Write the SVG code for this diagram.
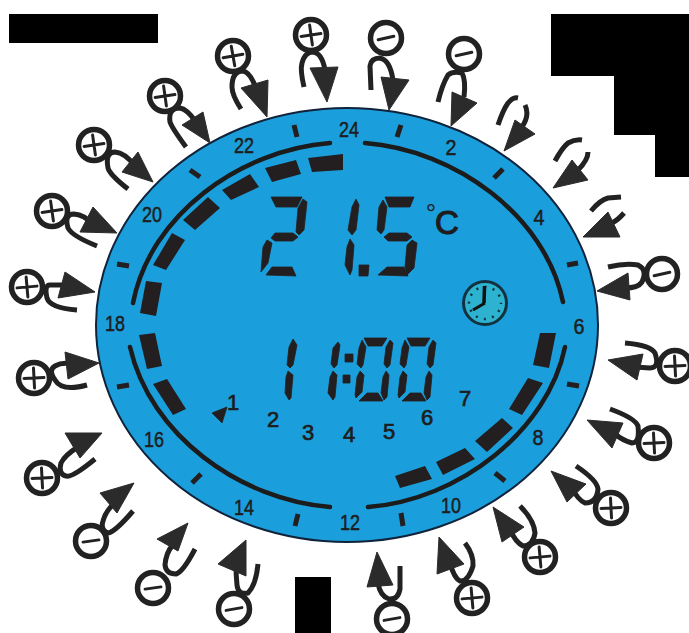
<svg xmlns="http://www.w3.org/2000/svg" width="689" height="633" viewBox="0 0 689 633">
<style>
.k{fill:#fff;stroke:#222;stroke-width:5.500}
.s{stroke:#222;stroke-width:3;stroke-linecap:round;fill:none}
.h{fill:none;stroke:#222;stroke-width:5;stroke-linecap:butt}
.a{fill:#2b2b2b;stroke:#2b2b2b;stroke-width:1;stroke-linejoin:miter}
.seg{fill:#231f20;stroke:#231f20;stroke-width:.8}
.bar{fill:#231f20}
.arc{fill:none;stroke:#1c1c1c;stroke-width:4.500;stroke-linecap:round}
.t{fill:none;stroke:#231f20;stroke-width:5}
text{font-family:"Liberation Sans",Arial,sans-serif;fill:#1d1d1d;text-anchor:middle}
.n{font-size:22px;stroke:#1d1d1d;stroke-width:.5}
.d{font-size:22px;stroke:#1d1d1d;stroke-width:.7}
.c{stroke:#1d1d1d;stroke-width:1.200}
</style>
<defs>
<g id="plus"><path class="s" d="M-10,0H10M0,-10V10"/></g>
<g id="minus"><path class="s" d="M-8,0H8"/></g>
<g id="zero" class="seg">
<polygon points="364,338 387,338 382,346 368,346"/>
<polygon points="362,340 366,347 363,365 361,368 357,364 359,348"/>
<polygon points="390,340 393,343 390,365 387,368 384,364 386,347"/>
<polygon points="360,371 364,375 362,392 356,398 355,395 357,377"/>
<polygon points="386,371 389,375 387,397 384,400 381,393 383,377"/>
<polygon points="359,401 367,393 378,393 383,401"/>
</g>
</defs>
<rect width="689" height="633" fill="#fff"/>
<g id="mask">
<rect x="9" y="14" width="149" height="29"/>
<polygon points="551,14 689,14 689,177 655,177 655,135 614,135 614,76 551,76"/>
<rect x="295" y="577" width="36" height="56"/>
</g>
<g id="display">
<ellipse cx="347" cy="325" rx="251" ry="217" fill="#1b9fdc" stroke="#10233a" stroke-width="2"/>
<g id="arcs">
<path class="arc" d="M133,303C150,215 240,150 330,143"/>
<path class="arc" d="M365,143C455,150 545,215 563,302"/>
<path class="arc" d="M130,347C150,435 240,500 330,507"/>
<path class="arc" d="M368,507C460,500 548,430 565,347"/>
</g>
<g id="ticks">
<path class="t" d="M294,125L297,137M190,170L200,177M117,264L129,266M117,387L129,385M192,483L201,474M295,526L298,514M401,513L403,526M495,473L505,481M567,384L579,386M567,265L578,263M494,178L503,169M401,125L397,137"/>
</g>
<g id="bars" class="bar">
<polygon points="308,158 343,154 343,170 312,172"/>
<polygon points="265,168 296,160 301,174 272,182"/>
<polygon points="222,190 250,174 259,187 231,200"/>
<polygon points="183,220 208,197 220,208 195,230"/>
<polygon points="153,265 172,233 185,240 166,270"/>
<polygon points="140,313 146,281 162,283 156,316"/>
<polygon points="139,335 155,333 162,366 147,369"/>
<polygon points="153,384 167,379 186,409 173,415"/>
<polygon points="395,476 425,466 432,479 400,488"/>
<polygon points="436,462 465,448 475,459 443,475"/>
<polygon points="475,441 502,418 513,428 487,452"/>
<polygon points="509,409 528,378 543,383 522,415"/>
<polygon points="533,365 540,333 556,333 549,368"/>
</g>
<g id="hours">
<text class="n" x="349" y="137" textLength="20" lengthAdjust="spacingAndGlyphs">24</text>
<text class="n" x="451" y="155" textLength="11" lengthAdjust="spacingAndGlyphs">2</text>
<text class="n" x="539" y="225" textLength="11" lengthAdjust="spacingAndGlyphs">4</text>
<text class="n" x="579" y="334" textLength="11" lengthAdjust="spacingAndGlyphs">6</text>
<text class="n" x="538" y="445" textLength="11" lengthAdjust="spacingAndGlyphs">8</text>
<text class="n" x="451" y="513" textLength="20" lengthAdjust="spacingAndGlyphs">10</text>
<text class="n" x="350" y="530" textLength="20" lengthAdjust="spacingAndGlyphs">12</text>
<text class="n" x="244" y="515" textLength="20" lengthAdjust="spacingAndGlyphs">14</text>
<text class="n" x="154" y="447" textLength="20" lengthAdjust="spacingAndGlyphs">16</text>
<text class="n" x="115" y="331" textLength="20" lengthAdjust="spacingAndGlyphs">18</text>
<text class="n" x="152" y="222" textLength="20" lengthAdjust="spacingAndGlyphs">20</text>
<text class="n" x="244" y="153" textLength="20" lengthAdjust="spacingAndGlyphs">22</text>
</g>
<g id="temp" class="seg">
<polygon points="271,197 302,197 297,207 276,207"/>
<polygon points="303,199 307,202 304,230 299,235 296,232 298,208"/>
<polygon points="271,238 275,233 293,233 298,237 293,241 275,241"/>
<polygon points="267,240 272,243 268,263 261,272 263,247"/>
<polygon points="266,275 272,267 292,267 296,276"/>
<polygon points="356,199 359,205 356,230 352,235 348,230 352,207"/>
<polygon points="350,239 354,245 352,270 350,275 345,265 347,247"/>
<polygon points="359,265 369,265 368,276 359,276"/>
<polygon points="385,197 414,197 410,207 389,207"/>
<polygon points="383,200 387,207 384,230 381,234 377,230 379,207"/>
<polygon points="384,237 389,233 407,233 412,237 407,241 388,241"/>
<polygon points="412,240 417,243 414,268 407,275 405,267 407,245"/>
<polygon points="378,275 387,267 404,267 408,276"/>
</g>
<text x="431" y="222" font-size="26">°<tspan class="c" x="447" y="234" font-size="33">C</tspan></text>
<g id="clock">
<circle cx="485" cy="303" r="21.500" fill="#2db2cf" stroke="#12323f" stroke-width="3"/>
<circle cx="485" cy="303" r="16" fill="none" stroke="#12323f" stroke-width="2.500" stroke-dasharray="2 6.380" stroke-dashoffset="1"/>
<path d="M484,303L484.500,286" stroke="#111" stroke-width="3.500" fill="none"/>
<path d="M485,303L473,310" stroke="#111" stroke-width="3" fill="none"/>
</g>
<g id="time" class="seg">
<polygon points="293,339 297,345 293,365 290,368 287,365 289,347"/>
<polygon points="288,371 293,375 291,398 289,400 285,393 286,377"/>
<polygon points="338,342 340,345 337,365 334,368 331,364 333,348"/>
<polygon points="333,371 337,375 335,397 333,400 328,393 330,377"/>
<polygon points="345,354 353,354 353,362 345,362"/>
<polygon points="343,375 350,375 350,383 343,383"/>
<use href="#zero"/>
<use href="#zero" x="43"/>
</g>
<g id="program">
<polygon class="seg" points="212,413 227,407 222,423"/>
<text class="d" x="233" y="410">1</text>
<text class="d" x="273" y="427">2</text>
<text class="d" x="308" y="440">3</text>
<text class="d" x="349" y="442">4</text>
<text class="d" x="389" y="439">5</text>
<text class="d" x="427" y="425">6</text>
<text class="d" x="465" y="406">7</text>
</g>
</g>
<g id="connectors">
<path class="h" d="M304,87Q300,70 302,63Q305,52 313,52Q322,53 325,70"/><polygon class="a" points="310,68 338,67 327,102"/>
<path class="h" d="M241,109Q232,95 232,87Q232,71 243,71Q250,72 256,88"/><polygon class="a" points="241,88 268,80 267,117"/>
<path class="h" d="M186,147Q172,128 170,122Q168,108 180,108Q187,109 196,122"/><polygon class="a" points="182,125 203,112 210,143"/>
<path class="h" d="M128,189Q110,175 108,168Q105,152 115,152Q125,153 134,165"/><polygon class="a" points="122,172 138,152 153,182"/>
<path class="h" d="M97,246Q72,236 68,228Q64,214 74,214Q85,215 92,224"/><polygon class="a" points="80,232 93,207 117,233"/>
<path class="h" d="M77,310Q50,308 47,298Q44,285 50,285L70,285"/><polygon class="a" points="58,298 65,272 95,292"/>
<path class="h" d="M87,385Q62,392 55,380Q48,370 55,366Q62,362 72,364"/><polygon class="a" points="65,352 99,363 68,379"/>
<path class="h" d="M95,459Q72,478 66,476Q58,474 61,463Q65,455 78,447"/><polygon class="a" points="65,433 102,433 80,458"/>
<path class="h" d="M133,511Q115,532 108,533Q100,530 103,521Q106,510 115,503"/><polygon class="a" points="100,493 134,483 117,513"/>
<path class="h" d="M195,549Q183,572 176,574Q166,574 165,565Q166,553 172,546"/><polygon class="a" points="157,539 188,523 178,551"/>
<path class="h" d="M258,564Q256,585 248,593Q238,595 237,585Q236,575 236,566"/><polygon class="a" points="218,564 246,540 246,576"/>
<path class="h" d="M400,566L400,589Q398,600 389,599Q380,596 378,583"/><polygon class="a" points="367,587 377,552 393,585"/>
<path class="h" d="M465,543Q474,555 473,566Q468,582 460,581Q454,578 450,563"/><polygon class="a" points="437,574 439,537 464,564"/>
<path class="h" d="M520,506Q534,520 535,533Q533,546 523,546Q515,542 510,529"/><polygon class="a" points="502,542 493,507 524,527"/>
<path class="h" d="M576,466Q597,480 598,489Q597,503 585,503Q578,500 572,488"/><polygon class="a" points="567,502 551,471 586,484"/>
<path class="h" d="M610,409Q635,418 638,426Q640,443 632,443Q622,440 615,434"/><polygon class="a" points="612,448 587,420 623,423"/>
<path class="h" d="M625,343Q650,345 655,353Q660,368 650,368L635,367"/><polygon class="a" points="637,380 608,360 643,354"/>
<path class="h" d="M608,267Q625,263 638,265Q648,270 642,282Q638,288 625,288"/><polygon class="a" points="597,291 628,273 630,300"/>
<path class="h" d="M591,211Q600,200 608,198L621,197M624,213Q618,220 612,223"/><polygon class="a" points="583,237 608,212 620,237"/>
<path class="h" d="M555,161Q562,148 568,143Q575,139 582,140M588,152Q588,160 578,170"/><polygon class="a" points="553,188 572,160 588,180"/>
<path class="h" d="M498,125Q503,110 508,103Q513,97 518,98M525,105Q530,115 522,127"/><polygon class="a" points="504,151 515,120 535,134"/>
<path class="h" d="M438,102Q442,85 448,75Q453,71 462,73Q466,80 464,97"/><polygon class="a" points="451,126 452,92 477,103"/>
<path class="h" d="M371,90L370,66Q371,58 380,58Q390,60 393,80"/><polygon class="a" points="389,110 381,77 409,80"/>
</g>
<g id="knob-p1"><circle class="k" cx="311" cy="35" r="15.500"/><use href="#plus" transform="translate(311,35) rotate(-8)"/></g>
<g id="knob-p2"><circle class="k" cx="233" cy="56" r="15.500"/><use href="#plus" transform="translate(233,56) rotate(-10)"/></g>
<g id="knob-p3"><circle class="k" cx="165" cy="96" r="15.500"/><use href="#plus" transform="translate(165,96) rotate(-8)"/></g>
<g id="knob-p4"><circle class="k" cx="94" cy="145" r="15.500"/><use href="#plus" transform="translate(94,145) rotate(-8)"/></g>
<g id="knob-p5"><circle class="k" cx="52" cy="211" r="15.500"/><use href="#plus" transform="translate(52,211) rotate(-8)"/></g>
<g id="knob-p6"><circle class="k" cx="27" cy="287" r="15.500"/><use href="#plus" transform="translate(27,287) rotate(-5)"/></g>
<g id="knob-p7"><circle class="k" cx="34" cy="378" r="15.500"/><use href="#plus" transform="translate(34,378) rotate(-3)"/></g>
<g id="knob-p8"><circle class="k" cx="42" cy="478" r="15.500"/><use href="#plus" transform="translate(42,478) rotate(-3)"/></g>
<g id="knob-m1"><circle class="k" cx="91" cy="541" r="15.500"/><use href="#minus" transform="translate(91,541) rotate(-8)"/></g>
<g id="knob-m2"><circle class="k" cx="153" cy="588" r="15.500"/><use href="#minus" transform="translate(153,588) rotate(-8)"/></g>
<g id="knob-m3"><circle class="k" cx="234" cy="609" r="15.500"/><use href="#minus" transform="translate(234,609) rotate(-10)"/></g>
<g id="knob-m4"><circle class="k" cx="392" cy="619" r="15.500"/><use href="#minus" transform="translate(392,619) rotate(-10)"/></g>
<g id="knob-p9"><circle class="k" cx="472" cy="598" r="15.500"/><use href="#plus" transform="translate(472,598) rotate(-5)"/></g>
<g id="knob-p10"><circle class="k" cx="540" cy="557" r="15.500"/><use href="#plus" transform="translate(540,557) rotate(-5)"/></g>
<g id="knob-p11"><circle class="k" cx="611" cy="508" r="15.500"/><use href="#plus" transform="translate(611,508) rotate(-3)"/></g>
<g id="knob-p12"><circle class="k" cx="654" cy="443" r="15.500"/><use href="#plus" transform="translate(654,443) rotate(-3)"/></g>
<g id="knob-p13"><circle class="k" cx="675" cy="366" r="15.500"/><use href="#plus" transform="translate(675,366) rotate(-3)"/></g>
<g id="knob-m5"><circle class="k" cx="662" cy="274" r="15.500"/><use href="#minus" transform="translate(662,274) rotate(-12)"/></g>
<g id="knob-m6"><circle class="k" cx="464" cy="54" r="15.500"/><use href="#minus" transform="translate(464,54) rotate(-12)"/></g>
<g id="knob-m7"><circle class="k" cx="386" cy="38" r="15.500"/><use href="#minus" transform="translate(386,38) rotate(-12)"/></g>
</svg>
